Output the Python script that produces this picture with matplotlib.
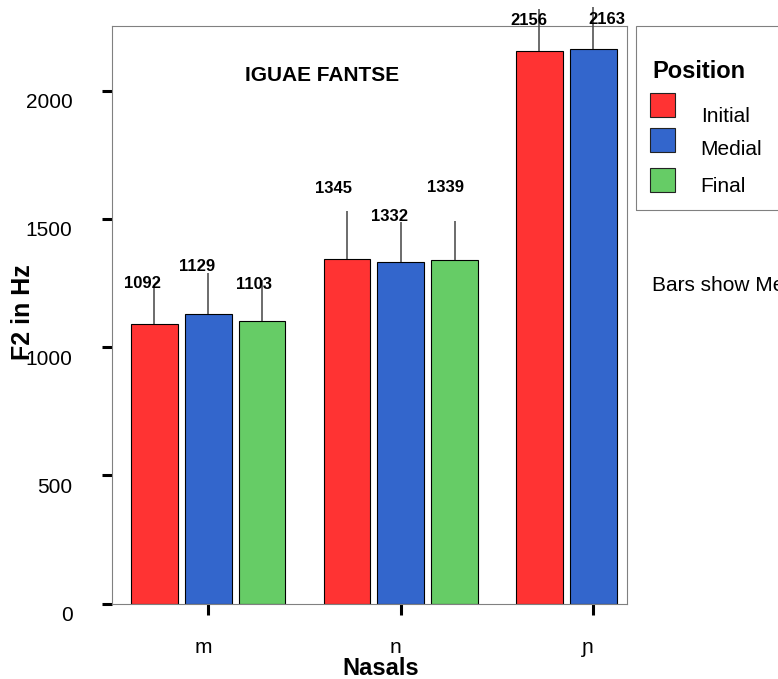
import numpy as np
import matplotlib
matplotlib.use('Agg')
import matplotlib.pyplot as plt
import matplotlib.transforms as mtransforms
from matplotlib.patches import Rectangle

plt.rcParams['font.family'] = ['Liberation Sans', 'DejaVu Sans']

# Mean F2 (Hz) of the nasals by word position; no word-final ɲ tokens
nasals = ['m', 'n', 'ɲ']
positions = ['Initial', 'Medial', 'Final']
f2_initial = [1092, 1345, 2156]
f2_medial = [1129, 1332, 2163]
f2_final = [1103, 1339, np.nan]
# upper error bar lengths (Hz)
err_initial = [140, 187, 161]
err_medial = [161, 157, 162]
err_final = [160, 154, np.nan]

colors = ['#FF3333', '#3366CC', '#66CC66']

W, H = 778, 679
fig = plt.figure(figsize=(W / 100, H / 100), dpi=100)


def fx(px):
    return px / W


def fy(py):
    return 1 - py / H


ax = fig.add_axes([fx(112), fy(603.5), 515 / W, 577.5 / H])

x = np.arange(len(nasals))
bar_w = 0.242
shift = [-0.28, 0.0, 0.28]
means = [f2_initial, f2_medial, f2_final]
errs = [err_initial, err_medial, err_final]

# value label nudges in pixels (dx, dy) so they sit clear of the error lines
label_dx = [[-12, -13, -10], [-11, -11, 14], [-8, -9, 0]]
label_dy = [[0, 18, -16], [2, 1, -17], [-9, 29, 0]]

for k in range(3):
    xs = x + shift[k]
    m = np.array(means[k], dtype=float)
    e = np.array(errs[k], dtype=float)
    ax.bar(xs, m, bar_w, color=colors[k], edgecolor='black', linewidth=0.8, zorder=2)
    ax.vlines(xs, m, m + e, color='#444444', linewidth=1.1, clip_on=False, zorder=3)
    for i in range(len(nasals)):
        if np.isnan(m[i]):
            continue
        ax.annotate(f'{m[i]:.0f}', xy=(xs[i], m[i] + e[i]),
                    xytext=(label_dx[k][i], label_dy[k][i]), textcoords='offset pixels',
                    ha='center', va='baseline', fontsize=12, fontweight='bold',
                    annotation_clip=False, zorder=4)

ax.set_xlim(-0.5, -0.5 + 515 / 192.5)
ax.set_ylim(0, 577.5 / 0.2564)
ax.set_yticks([0, 500, 1000, 1500, 2000])
ax.set_xticks(x)
ax.set_xticklabels(nasals)

for s in ax.spines.values():
    s.set_color('#808080')
    s.set_linewidth(0.8)

ax.tick_params(axis='y', direction='out', length=7.5, width=2.2, pad=21, labelsize=15)
ax.tick_params(axis='x', direction='out', length=8, width=2.2, pad=16.5, labelsize=15)

down = mtransforms.ScaledTranslation(0, -0.10, fig.dpi_scale_trans)
for lab in ax.get_yticklabels():
    lab.set_transform(lab.get_transform() + down)
left = mtransforms.ScaledTranslation(-0.05, 0, fig.dpi_scale_trans)
for lab in ax.get_xticklabels():
    lab.set_transform(lab.get_transform() + left)

ax.set_ylabel('F2 in Hz', fontsize=18, fontweight='bold', va='center')
ax.yaxis.set_label_coords(-0.172, 0.505)
ax.set_xlabel('Nasals', fontsize=17, fontweight='bold', va='center')
ax.xaxis.set_label_coords(0.522, -0.112)

ax.text(0.408, 0.904, 'IGUAE FANTSE', transform=ax.transAxes, ha='center',
        va='baseline', fontsize=15, fontweight='bold')

# legend box on the right, running off the edge of the figure
fig.add_artist(Rectangle((fx(636), fy(210)), 1.0, fy(26) - fy(210), transform=fig.transFigure,
                         fill=False, edgecolor='#808080', linewidth=0.8))
fig.text(fx(652), fy(78), 'Position', fontsize=17, fontweight='bold', va='baseline')
patch_top = [92.7, 128, 168]
text_base = [121.7, 155, 191.7]
for k, name in enumerate(positions):
    fig.add_artist(Rectangle((fx(650), fy(patch_top[k] + 24)), 25 / W, 24 / H,
                             transform=fig.transFigure, facecolor=colors[k],
                             edgecolor='#222222', linewidth=0.8))
    fig.text(fx(700.7), fy(text_base[k]), name, fontsize=15, va='baseline')

fig.text(fx(652), fy(290.7), 'Bars show Means', fontsize=15, va='baseline')

fig.savefig('out.png', dpi=100)
